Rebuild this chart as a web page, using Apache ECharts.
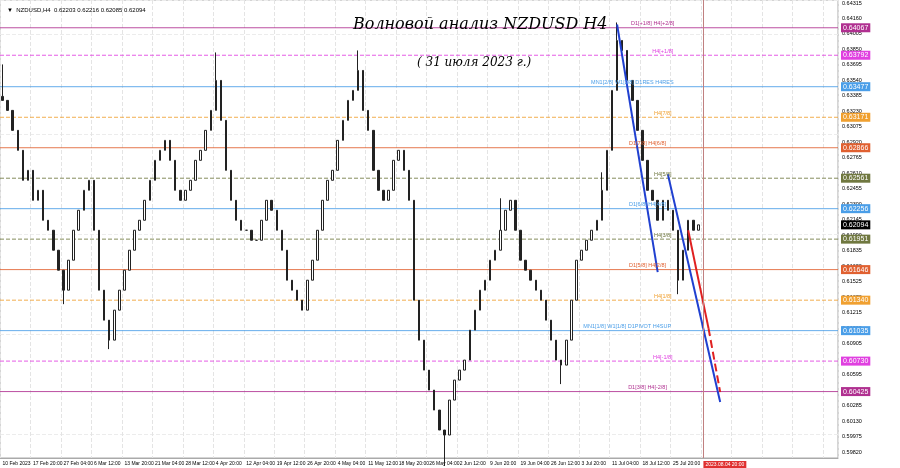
<!DOCTYPE html><html><head><meta charset="utf-8">
<script src="https://cdn.jsdelivr.net/npm/echarts@6/dist/echarts.min.js"></script>
<style>html,body{margin:0;background:#fff}#c{width:900px;height:468px}</style></head><body><div id="c"></div>
<script>
const closes=[.6334,.6324,.6304,.6284,.6254,.6264,.6234,.6244,.6214,.6204,.6184,.6164,.6144,.6174,.6204,.6224,.6244,.6254,.6204,.6144,
.6114,.6094,.6124,.6144,.6164,.6184,.6204,.6214,.6234,.6254,.6274,.6284,.6294,.6274,.6244,.6234,.6244,.6254,.6274,.6284,
.6304,.6324,.6354,.6314,.6264,.6234,.6214,.6204,.6204,.6194,.6194,.6214,.6234,.6224,.6204,.6184,.6154,.6144,.6134,.6124,
.6154,.6174,.6204,.6234,.6254,.6264,.6294,.6314,.6334,.6344,.6364,.6324,.6304,.6264,.6244,.6234,.6244,.6274,.6284,.6264,
.6234,.6134,.6094,.6064,.6044,.6024,.6004,.5999,.6034,.6054,.6064,.6074,.6104,.6124,.6144,.6154,.6174,.6184,.6204,.6224,
.6234,.6204,.6174,.6164,.6154,.6144,.6134,.6114,.6094,.6074,.6069,.6094,.6134,.6174,.6184,.6194,.6204,.6214,.6244,.6284,
.6344,.6394,.6384,.6354,.6334,.6304,.6274,.6244,.6234,.6214,.6234,.6224,.6204,.6154,.6184,.6214,.6204,.62094];
const firstOpen=.6338;
const spikeHigh={0:.6370,42:.6382,70:.6384,121:.6412,98:.6236,118:.6262};
const spikeLow={12:.6130,21:.6085,87:.5968,110:.6050,133:.6140};
const tickLabels=['10 Feb 2023','17 Feb 20:00','27 Feb 04:00','6 Mar 12:00','13 Mar 20:00','21 Mar 04:00','28 Mar 12:00','4 Apr 20:00','12 Apr 04:00','19 Apr 12:00','26 Apr 20:00','4 May 04:00','11 May 12:00','18 May 20:00','26 May 04:00','2 Jun 12:00','9 Jun 20:00','19 Jun 04:00','26 Jun 12:00','3 Jul 20:00','11 Jul 04:00','18 Jul 12:00','25 Jul 20:00','2023.08.04 20:00'];
const yTicks=[0.64315,0.64160,0.64005,0.63850,0.63695,0.63540,0.63385,0.63230,0.63075,0.62920,0.62765,0.62610,0.62455,0.62300,0.62145,0.61990,0.61835,0.61680,0.61525,0.61370,0.61215,0.61060,0.60905,0.60750,0.60595,0.60440,0.60285,0.60130,0.59975,0.59820];
const levels=[[0.64067,'#b03090','solid','D1[+1/8] H4[+2/8]',128],[0.63792,'#e040e0','dashed','H4[+1/8]',130],[0.63477,'#4a9ee8','solid','MN1[2/8] W1[2/8] D1RES H4RES',124],
[0.63171,'#f0a030','dashed','H4[7/8]',130],[0.62866,'#e06030','solid','D1[7/8] H4[6/8]',127],[0.62561,'#707840','dashed','H4[5/8]',130],
[0.62256,'#4a9ee8','solid','D1[6/8] H4[4/8]',127],[0.61951,'#707840','dashed','H4[3/8]',130],[0.61646,'#e06030','solid','D1[5/8] H4[2/8]',127],
[0.61340,'#f0a030','dashed','H4[1/8]',130],[0.61035,'#4a9ee8','solid','MN1[1/8] W1[1/8] D1PIVOT H4SUP',123],[0.60730,'#e040e0','dashed','H4[-1/8]',130],[0.60425,'#b03090','solid','D1[3/8] H4[-2/8]',127]];
const lastPrice=0.62094;
const blue1=[[121,0.6410],[129,0.6162]];
const blue2=[[131,0.6260],[141.3,0.6032]];
const redSolid=[[135,0.6204],[139,0.6106]];
const redDash=[[139,0.6106],[141.3,0.6042]];
const N=165;
const cats=[];for(let i=0;i<N;i++)cats.push(i%6===0&&i/6<tickLabels.length?tickLabels[i/6]:'');
const ohlc=closes.map((c,i)=>{const o=i?closes[i-1]:firstOpen;return [o,c,spikeLow[i]??Math.min(o,c),spikeHigh[i]??Math.max(o,c)];});
const levelSeries=(v,c,t,label,lx)=>({type:'line',xAxisIndex:1,symbol:'none',silent:true,z:1,
 data:[[-0.5,v],[N-0.5,v]],lineStyle:{color:c,type:t,width:1,opacity:t==='none'?0:0.85},
 endLabel:{show:true,formatter:v.toFixed(5),backgroundColor:c,color:'#fff',fontSize:7,padding:[1,2],distance:3},
 markPoint:label?{symbol:'circle',symbolSize:0,data:[{coord:[lx,v]}],label:{show:true,position:'top',distance:1,formatter:label,fontSize:5.5,color:c}}:undefined});
const ch=echarts.init(document.getElementById('c'));
ch.setOption({animation:false,
grid:{left:0,right:62,top:0,bottom:10,show:true,borderColor:'#aaa',outerBoundsMode:'none',containLabel:false},
title:[{text:'Волновой анализ NZDUSD H4',left:348,top:12,textStyle:{fontFamily:'DejaVu Serif',fontStyle:'italic',fontWeight:'normal',fontSize:16,color:'#000'}},
{text:'( 31 июля 2023 г.)',left:412,top:52,textStyle:{fontFamily:'DejaVu Serif',fontStyle:'italic',fontWeight:'normal',fontSize:12,color:'#000'}},
{text:'▼  NZDUSD,H4  0.62203 0.62216 0.62085 0.62094',left:2,top:2,textStyle:{fontSize:6,fontWeight:'normal',color:'#000'}}],
xAxis:[{type:'category',data:cats,boundaryGap:true,axisTick:{show:false},axisLine:{lineStyle:{color:'#aaa'}},
 axisLabel:{interval:0,fontSize:5,color:'#000',margin:3,align:'left',
  formatter:v=>v===tickLabels[tickLabels.length-1]?'{r|'+v+'}':v,rich:{r:{backgroundColor:'#e03030',color:'#fff',fontSize:5,padding:[1,2]}}},
 splitLine:{show:true,interval:(i)=>i%6===0,lineStyle:{color:'#e4e4e4',type:'dashed'}}},
 {type:'value',min:-0.5,max:N-0.5,show:false}],
yAxis:{type:'value',position:'right',min:0.5976,max:0.64345,axisLine:{show:false},axisTick:{show:false},
 axisLabel:{customValues:yTicks,formatter:v=>v.toFixed(5),fontSize:5.5,color:'#000',margin:4},
 splitLine:{show:true,lineStyle:{color:'#ececec',type:'dashed'}}},
series:[{type:'candlestick',data:ohlc,barWidth:2,z:3,itemStyle:{color:'#fff',color0:'#222',borderColor:'#222',borderColor0:'#222',borderWidth:1},
 markLine:{symbol:'none',silent:true,label:{show:false},data:[{xAxis:138,lineStyle:{color:'#c08080',type:'solid',width:1}}]}},
 ...levels.map(l=>levelSeries(l[0],l[1],l[2],l[3],l[4])),
 levelSeries(lastPrice,'#000','none',null,0),
 {type:'line',xAxisIndex:1,data:blue1,symbol:'none',z:4,lineStyle:{color:'#2040d0',width:2}},
 {type:'line',xAxisIndex:1,data:blue2,symbol:'none',z:4,lineStyle:{color:'#2040d0',width:2}},
 {type:'line',xAxisIndex:1,data:redSolid,symbol:'none',z:4,lineStyle:{color:'#e02020',width:2}},
 {type:'line',xAxisIndex:1,data:redDash,symbol:'none',z:4,lineStyle:{color:'#e02020',width:2,type:'dashed'}}]});
</script></body></html>
